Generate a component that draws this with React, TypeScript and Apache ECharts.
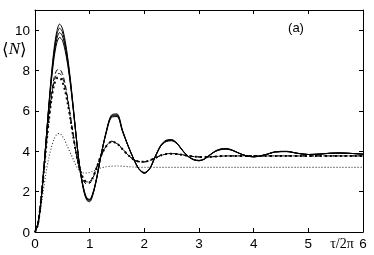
import React, { useEffect, useRef } from "react";
import * as echarts from "echarts";

// time grid (tau / 2pi)
const xs = [
  0, 0.05, 0.1, 0.15, 0.2, 0.25, 0.3, 0.35, 0.4, 0.45, 0.5, 0.55, 0.6, 0.65, 0.7, 0.75, 0.8, 0.85, 0.9, 0.95, 1.0, 1.05, 1.1, 1.15, 1.2,
  1.3, 1.4, 1.5, 1.6, 1.7, 1.8, 1.9, 2.0, 2.1, 2.2, 2.3, 2.4, 2.5, 2.6, 2.7, 2.8, 2.9, 3.0, 3.1, 3.2, 3.3, 3.4, 3.5, 3.6, 3.7, 3.8, 3.9, 4.0,
  4.2, 4.4, 4.6, 4.8, 5.0, 5.2, 5.4, 5.6, 5.8, 6.0,
];

const solidA = [
  0, 0.35, 1.3, 2.75, 4.45, 6.2, 7.8, 9.1, 9.95, 10.3, 10.1, 9.5, 8.6, 7.5, 6.2, 4.85, 3.6, 2.65, 1.98, 1.62, 1.55, 1.8, 2.3, 2.95, 3.7,
  4.95, 5.8, 5.85, 5.05, 4.3, 3.65, 3.12, 2.92, 3.15, 3.75, 4.3, 4.55, 4.58, 4.4, 4.05, 3.75, 3.58, 3.53, 3.62, 3.83, 4.02, 4.12, 4.14, 4.07, 3.95, 3.83, 3.75, 3.72,
  3.82, 3.98, 4.0, 3.9, 3.84, 3.86, 3.91, 3.92, 3.89, 3.86,
];
const solidB = [
  0, 0.35, 1.3, 2.75, 4.45, 6.15, 7.7, 8.95, 9.78, 10.1, 9.92, 9.35, 8.5, 7.42, 6.15, 4.82, 3.6, 2.68, 2.02, 1.66, 1.6, 1.84, 2.33, 2.97, 3.7,
  4.93, 5.76, 5.8, 5.03, 4.3, 3.65, 3.13, 2.93, 3.15, 3.74, 4.28, 4.53, 4.56, 4.38, 4.04, 3.75, 3.59, 3.54, 3.62, 3.82, 4.0, 4.1, 4.12, 4.06, 3.94, 3.83, 3.76, 3.73,
  3.82, 3.97, 3.99, 3.9, 3.84, 3.86, 3.9, 3.91, 3.89, 3.86,
];
const solidC = [
  0, 0.35, 1.3, 2.75, 4.45, 6.1, 7.6, 8.8, 9.58, 9.88, 9.72, 9.18, 8.38, 7.35, 6.1, 4.8, 3.58, 2.62, 1.94, 1.56, 1.5, 1.76, 2.28, 2.94, 3.68,
  4.9, 5.72, 5.76, 5.0, 4.28, 3.64, 3.12, 2.9, 3.13, 3.72, 4.26, 4.5, 4.54, 4.37, 4.03, 3.74, 3.58, 3.53, 3.61, 3.81, 4.0, 4.1, 4.12, 4.06, 3.94, 3.83, 3.76, 3.73,
  3.82, 3.97, 3.99, 3.9, 3.84, 3.86, 3.9, 3.91, 3.89, 3.86,
];
const solidD = [
  0, 0.35, 1.3, 2.75, 4.45, 6.05, 7.5, 8.65, 9.38, 9.64, 9.5, 9.0, 8.25, 7.25, 6.05, 4.78, 3.6, 2.7, 2.05, 1.68, 1.62, 1.86, 2.35, 2.98, 3.7,
  4.88, 5.68, 5.72, 4.98, 4.28, 3.65, 3.14, 2.95, 3.16, 3.73, 4.25, 4.48, 4.52, 4.36, 4.03, 3.75, 3.6, 3.55, 3.62, 3.81, 3.99, 4.08, 4.1, 4.05, 3.94, 3.83, 3.76, 3.73,
  3.82, 3.96, 3.98, 3.9, 3.84, 3.86, 3.9, 3.91, 3.89, 3.86,
];

const dashedA = [
  0, 0.35, 1.3, 2.7, 4.2, 5.6, 6.8, 7.65, 8.02, 8.05, 7.85, 7.35, 6.6, 5.7, 4.8, 3.95, 3.25, 2.75, 2.47, 2.38, 2.42, 2.62, 2.95, 3.35, 3.72,
  4.25, 4.5, 4.4, 4.12, 3.82, 3.6, 3.48, 3.47, 3.55, 3.67, 3.8, 3.87, 3.89, 3.87, 3.83, 3.78, 3.74, 3.72, 3.71, 3.72, 3.74, 3.76, 3.77, 3.77, 3.77, 3.77, 3.77, 3.77,
  3.77, 3.77, 3.77, 3.77, 3.77, 3.77, 3.77, 3.77, 3.77, 3.77,
];
const dashedB = [
  0, 0.35, 1.3, 2.7, 4.15, 5.5, 6.65, 7.45, 7.82, 7.85, 7.65, 7.18, 6.48, 5.62, 4.75, 3.95, 3.3, 2.83, 2.56, 2.48, 2.5, 2.68, 3.0, 3.38, 3.73,
  4.24, 4.47, 4.38, 4.1, 3.82, 3.6, 3.49, 3.48, 3.55, 3.67, 3.79, 3.86, 3.88, 3.86, 3.82, 3.77, 3.74, 3.72, 3.71, 3.72, 3.74, 3.76, 3.77, 3.77, 3.77, 3.77, 3.77, 3.77,
  3.77, 3.77, 3.77, 3.77, 3.77, 3.77, 3.77, 3.77, 3.77, 3.77,
];
const dashedC = [
  0, 0.35, 1.3, 2.7, 4.1, 5.45, 6.55, 7.3, 7.62, 7.65, 7.45, 7.0, 6.35, 5.55, 4.72, 3.95, 3.32, 2.86, 2.58, 2.47, 2.47, 2.65, 2.98, 3.37, 3.73,
  4.24, 4.47, 4.38, 4.1, 3.82, 3.6, 3.49, 3.48, 3.55, 3.67, 3.79, 3.86, 3.88, 3.86, 3.82, 3.77, 3.74, 3.72, 3.71, 3.72, 3.74, 3.76, 3.77, 3.77, 3.77, 3.77, 3.77, 3.77,
  3.77, 3.77, 3.77, 3.77, 3.77, 3.77, 3.77, 3.77, 3.77, 3.77,
];

const dotted = [
  0, 0.3, 1.1, 2.0, 2.9, 3.65, 4.2, 4.6, 4.85, 4.88, 4.75, 4.5, 4.2, 3.9, 3.6, 3.3, 3.08, 2.96, 2.92, 2.92, 2.95, 3.0, 3.06, 3.12, 3.17,
  3.23, 3.26, 3.27, 3.26, 3.24, 3.22, 3.21, 3.2, 3.2, 3.2, 3.2, 3.2, 3.2, 3.2, 3.2, 3.2, 3.2, 3.2, 3.2, 3.2, 3.2, 3.2, 3.2, 3.2, 3.2, 3.2, 3.2, 3.2,
  3.2, 3.2, 3.2, 3.2, 3.2, 3.2, 3.2, 3.2, 3.2, 3.2,
];

const xTicks = [0, 1, 2, 3, 4, 5, 6];
const yTicks = [0, 2, 4, 6, 8, 10];

export default function App() {
  const ref = useRef<HTMLDivElement>(null);
  useEffect(() => {
    const chart = echarts.init(ref.current!, null, { renderer: "svg" });
    const pairs = (ys: number[]) => xs.map((x, i) => [x, ys[i]]);
    const line = (ys: number[], width: number, type: any, color = "#000") => ({
      type: "line",
      data: pairs(ys),
      showSymbol: false,
      smooth: 0.3,
      silent: true,
      lineStyle: { color, width, type },
    });
    const axisCommon = {
      axisLine: { show: true, onZero: false, lineStyle: { color: "#000", width: 1 } },
      axisTick: { show: true, inside: true, length: 4, lineStyle: { color: "#000" } },
      splitLine: { show: false },
    };
    chart.setOption({
      animation: false,
      grid: { left: 35, right: 11, top: 10, bottom: 23 },
      xAxis: [
        {
          type: "value", min: xTicks[0], max: xTicks[xTicks.length - 1], interval: 1, position: "bottom",
          ...axisCommon,
          axisLabel: { color: "#000", fontSize: 13.5, fontFamily: "Liberation Sans", margin: 4 },
        },
        {
          type: "value", min: 0, max: 6, interval: 1, position: "top",
          ...axisCommon,
          axisLabel: { show: false },
        },
      ],
      yAxis: [
        {
          type: "value", min: yTicks[0], max: 11, interval: 2, position: "left",
          ...axisCommon,
          axisLabel: {
            color: "#000", fontSize: 13.5, fontFamily: "Liberation Sans", margin: 5, showMaxLabel: false,
            formatter: (v: number) => (yTicks.includes(v) ? String(v) : ""),
          },
        },
        {
          type: "value", min: 0, max: 11, interval: 2, position: "right",
          ...axisCommon,
          axisLabel: { show: false },
        },
      ],
      series: [
        line(dotted, 1.1, [1, 2], "#333"),
        line(dashedC, 2, [2, 3]),
        line(dashedB, 1, [4, 3]),
        line(dashedA, 1, [5, 3]),
        line(solidD, 1, "solid"),
        line(solidC, 1, "solid"),
        line(solidB, 1, "solid"),
        line(solidA, 1, "solid"),
      ],
      graphic: [
        {
          type: "text", left: 2, top: 40,
          style: {
            text: "{b|⟨}{n|N}{b|⟩}",
            rich: {
              b: { fontSize: 17, fontFamily: "DejaVu Serif", fill: "#000" },
              n: { fontSize: 17, fontFamily: "Liberation Serif", fontStyle: "italic", fill: "#000" },
            },
          },
        },
        {
          type: "text", x: 296, y: 27,
          style: { text: "(a)", fontSize: 13, fontFamily: "Liberation Sans", fill: "#000", align: "center", verticalAlign: "middle" },
        },
        {
          type: "text", x: 342, y: 243,
          style: { text: "τ/2π", fontSize: 14, fontFamily: "Liberation Serif", fill: "#000", align: "center", verticalAlign: "middle" },
        },
      ],
    });
    return () => chart.dispose();
  }, []);
  return <div ref={ref} style={{ position: "fixed", left: 0, top: 0, width: 374, height: 255 }} />;
}
